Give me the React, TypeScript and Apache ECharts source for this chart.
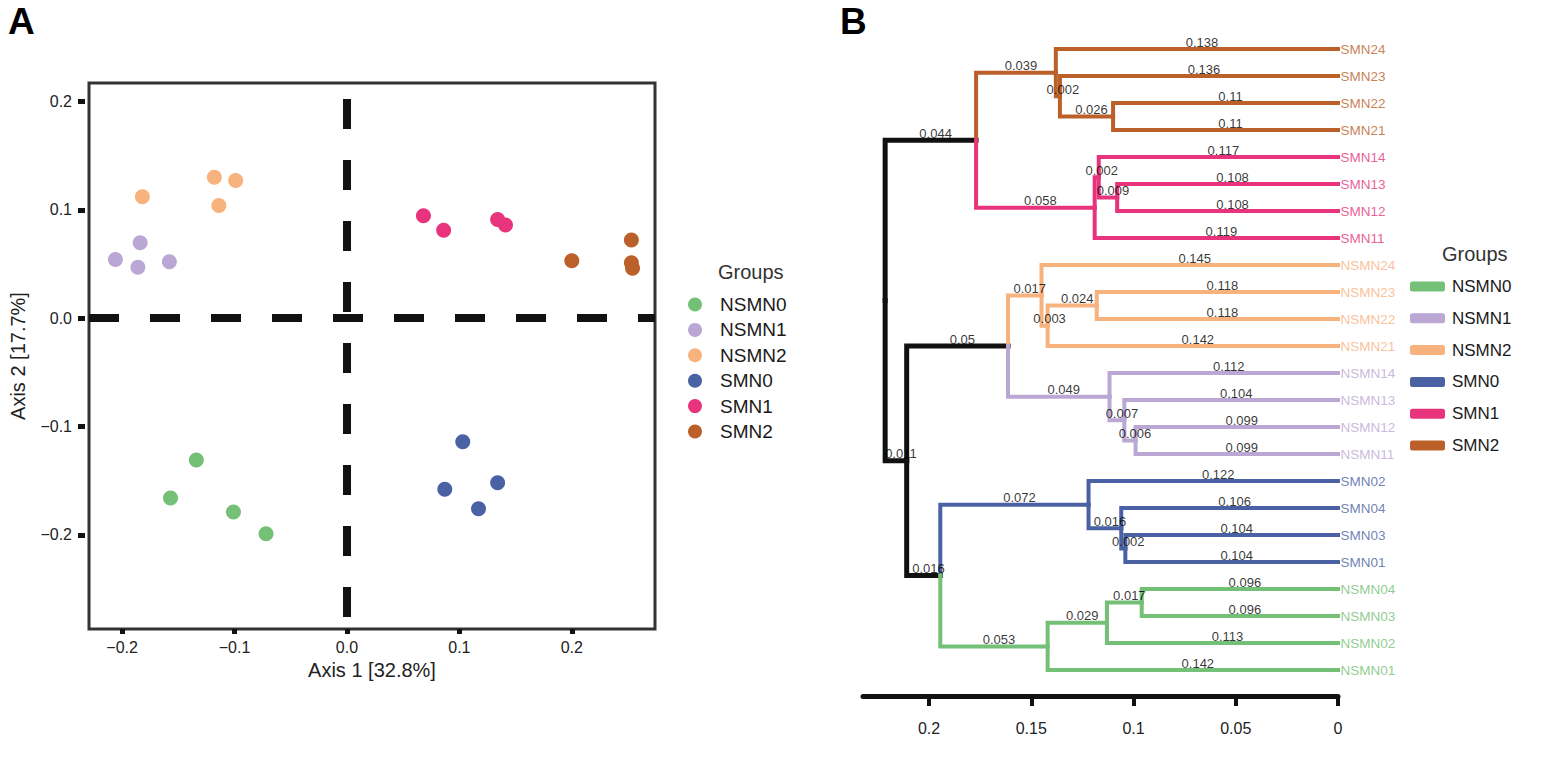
import React, { useEffect, useRef } from 'react';
import * as echarts from 'echarts';

const FONT = 'Liberation Sans, Arial, Helvetica, sans-serif';

// Groups and their colours
const groups = ['NSMN0', 'NSMN1', 'NSMN2', 'SMN0', 'SMN1', 'SMN2'];
const groupColors = ['#74C076', '#BAA7D3', '#F8B27E', '#4A62A3', '#E7347C', '#BC6029'];

// Panel A: PCoA coordinates [Axis 1, Axis 2]
const pcoaNSMN0 = [[-0.134, -0.131], [-0.157, -0.166], [-0.101, -0.179], [-0.072, -0.199]];
const pcoaNSMN1 = [[-0.206, 0.054], [-0.184, 0.0695], [-0.186, 0.047], [-0.158, 0.052]];
const pcoaNSMN2 = [[-0.182, 0.112], [-0.118, 0.13], [-0.099, 0.127], [-0.114, 0.104]];
const pcoaSMN0 = [[0.103, -0.114], [0.087, -0.158], [0.134, -0.152], [0.117, -0.176]];
const pcoaSMN1 = [[0.068, 0.0945], [0.086, 0.081], [0.134, 0.091], [0.141, 0.086]];
const pcoaSMN2 = [[0.2, 0.053], [0.253, 0.072], [0.253, 0.051], [0.254, 0.046]];
const pcoaPoints = [pcoaNSMN0, pcoaNSMN1, pcoaNSMN2, pcoaSMN0, pcoaSMN1, pcoaSMN2];

const axis1Ticks = [-0.2, -0.1, 0, 0.1, 0.2];
const axis2Ticks = [-0.2, -0.1, 0, 0.1, 0.2];
const axis1Range = [-0.2295, 0.274];
const axis2Range = [-0.2869, 0.217];

// Panel B: UPGMA tree with branch lengths
const treeNewick =
  '(((SMN24:0.138,(SMN23:0.136,(SMN22:0.11,SMN21:0.11):0.026):0.002):0.039,' +
  '((SMN14:0.117,(SMN13:0.108,SMN12:0.108):0.009):0.002,SMN11:0.119):0.058):0.044,' +
  '(((NSMN24:0.145,((NSMN23:0.118,NSMN22:0.118):0.024,NSMN21:0.142):0.003):0.017,' +
  '(NSMN14:0.112,(NSMN13:0.104,(NSMN12:0.099,NSMN11:0.099):0.006):0.007):0.049):0.05,' +
  '((SMN02:0.122,(SMN04:0.106,(SMN03:0.104,SMN01:0.104):0.002):0.016):0.072,' +
  '(((NSMN04:0.096,NSMN03:0.096):0.017,NSMN02:0.113):0.029,NSMN01:0.142):0.053):0.016):0.011);';
const treeTicks = [0, 0.05, 0.1, 0.15, 0.2];
const treeMax = 0.2323;

type TNode = { name: string; len: string; children: TNode[]; h: number; y: number; group: string | null };

function parseNewick(s: string): TNode {
  let i = 0;
  function node(): TNode {
    const n: TNode = { name: '', len: '', children: [], h: 0, y: 0, group: null };
    if (s[i] === '(') {
      i++;
      n.children.push(node());
      while (s[i] === ',') {
        i++;
        n.children.push(node());
      }
      i++;
    }
    let name = '';
    while (i < s.length && !',():;'.includes(s[i])) name += s[i++];
    n.name = name;
    if (s[i] === ':') {
      i++;
      let len = '';
      while (i < s.length && !',();'.includes(s[i])) len += s[i++];
      n.len = len;
    }
    return n;
  }
  return node();
}

function buildTree() {
  const root = parseNewick(treeNewick);
  let leafIdx = 0;
  const leaves: TNode[] = [];
  const layout = (n: TNode) => {
    if (!n.children.length) {
      n.y = leafIdx++;
      n.h = 0;
      n.group = n.name.slice(0, -1);
      leaves.push(n);
      return;
    }
    n.children.forEach(layout);
    n.h = n.children.reduce((a, c) => a + c.h + parseFloat(c.len), 0) / n.children.length;
    n.y = (n.children[0].y + n.children[n.children.length - 1].y) / 2;
    const g = n.children[0].group;
    n.group = n.children.every((c) => c.group === g) ? g : null;
  };
  layout(root);
  const edges: { p: TNode; c: TNode }[] = [];
  const collect = (p: TNode) => {
    p.children.forEach((c) => {
      edges.push({ p, c });
      collect(c);
    });
  };
  collect(root);
  return { root, leaves, edges };
}

const fmtSigned = (v: number) => {
  if (Math.abs(v) < 1e-9) return '0.0';
  return (v < 0 ? '\u2212' : '') + Math.abs(v).toFixed(1);
};

export default function App() {
  const ref = useRef<HTMLDivElement>(null);
  useEffect(() => {
    if (!ref.current) return;
    const chart = echarts.init(ref.current, undefined, { renderer: 'svg' });
    const { leaves, edges } = buildTree();
    const colorOf = (g: string | null) => (g ? groupColors[groups.indexOf(g)] : '#111111');

    const edgeLines = edges.map(({ p, c }) => ({
      coords: [
        [p.h, p.y],
        [p.h, c.y],
        [c.h, c.y],
      ],
      lineStyle: { color: colorOf(c.group), width: c.group ? 4 : 5 },
    }));
    const edgeLabels = edges.map(({ p, c }) => ({ value: [(p.h + c.h) / 2, c.y], name: c.len }));
    const leafLabels = leaves.map((l) => ({
      value: [0, l.y],
      name: l.name,
      label: { color: colorOf(l.group) },
    }));

    const scatterSeries = groups.map((g, gi) => ({
      type: 'scatter',
      name: g,
      xAxisIndex: 0,
      yAxisIndex: 0,
      data: pcoaPoints[gi],
      symbolSize: 15,
      itemStyle: { color: groupColors[gi], opacity: 1 },
      z: 5,
      silent: true,
    }));

    const option: any = {
      animation: false,
      backgroundColor: '#ffffff',
      textStyle: { fontFamily: FONT },
      title: [
        { text: 'A', left: 8, top: 3, padding: 0, textStyle: { fontSize: 37, fontWeight: 'bold', color: '#000', fontFamily: FONT } },
        { text: 'B', left: 840, top: 3, padding: 0, textStyle: { fontSize: 37, fontWeight: 'bold', color: '#000', fontFamily: FONT } },
        { text: 'Groups', left: 718, top: 262, padding: 0, textStyle: { fontSize: 20, fontWeight: 'normal', color: '#333', fontFamily: FONT } },
        { text: 'Groups', left: 1442, top: 244, padding: 0, textStyle: { fontSize: 20, fontWeight: 'normal', color: '#333', fontFamily: FONT } },
      ],
      legend: [
        {
          data: groups,
          orient: 'vertical',
          left: 688,
          top: 295,
          icon: 'circle',
          itemWidth: 14,
          itemHeight: 14,
          itemGap: 6.4,
          padding: 0,
          selectedMode: false,
          textStyle: { fontSize: 19, lineHeight: 19, color: '#1a1a1a', fontFamily: FONT, padding: [0, 0, 0, 13] },
        },
        {
          data: groups,
          orient: 'vertical',
          left: 1410,
          top: 278,
          icon: 'roundRect',
          itemWidth: 35,
          itemHeight: 10,
          itemGap: 14.8,
          padding: 0,
          selectedMode: false,
          textStyle: { fontSize: 17, lineHeight: 17, color: '#1a1a1a', fontFamily: FONT, padding: [0, 0, 0, 2] },
        },
      ],
      grid: [
        { left: 89, top: 83, width: 566, height: 546, show: true, borderColor: '#333', borderWidth: 3, backgroundColor: 'transparent' },
        { left: 863, top: 49, width: 475, height: 621, show: false },
      ],
      xAxis: [
        {
          type: 'value',
          gridIndex: 0,
          min: axis1Range[0],
          max: axis1Range[1],
          axisLine: { show: false, onZero: false },
          splitLine: { show: false },
          axisTick: { show: true, length: 5, lineStyle: { width: 5, color: '#111' }, customValues: axis1Ticks },
          axisLabel: { customValues: axis1Ticks, formatter: fmtSigned, fontSize: 16, color: '#222', margin: 10, fontFamily: FONT },
          name: 'Axis 1 [32.8%]',
          nameLocation: 'middle',
          nameGap: 31,
          nameTextStyle: { fontSize: 20, color: '#222', fontFamily: FONT },
        },
        {
          type: 'value',
          gridIndex: 1,
          min: 0,
          max: treeMax,
          inverse: true,
          offset: 26,
          axisLine: { show: true, onZero: false, lineStyle: { width: 5, color: '#111' } },
          splitLine: { show: false },
          axisTick: { show: true, length: 10, lineStyle: { width: 4, color: '#111' }, customValues: treeTicks },
          axisLabel: { customValues: treeTicks, formatter: (v: number) => String(v), fontSize: 16, color: '#222', margin: 24, fontFamily: FONT },
        },
      ],
      yAxis: [
        {
          type: 'value',
          gridIndex: 0,
          min: axis2Range[0],
          max: axis2Range[1],
          offset: 4,
          axisLine: { show: false, onZero: false },
          splitLine: { show: false },
          axisTick: { show: true, length: 7, lineStyle: { width: 5, color: '#111' }, customValues: axis2Ticks },
          axisLabel: { customValues: axis2Ticks, formatter: fmtSigned, fontSize: 16, color: '#222', margin: 13, fontFamily: FONT },
          name: 'Axis 2 [17.7%]',
          nameLocation: 'middle',
          nameGap: 57,
          nameTextStyle: { fontSize: 20, color: '#222', fontFamily: FONT },
        },
        {
          type: 'value',
          gridIndex: 1,
          min: 0,
          max: leaves.length - 1,
          inverse: true,
          show: false,
          axisLine: { onZero: false },
        },
      ],
      series: [
        {
          type: 'scatter',
          name: 'ref',
          xAxisIndex: 0,
          yAxisIndex: 0,
          data: [],
          silent: true,
          markLine: {
            silent: true,
            symbol: 'none',
            z: 1,
            label: { show: false },
            lineStyle: { type: [30, 31], width: 8, color: '#111', opacity: 1 },
            data: [
              { xAxis: 0, lineStyle: { type: [30, 31], dashOffset: 48.6, width: 8, color: '#111' } },
              { yAxis: 0 },
            ],
          },
        },
        ...scatterSeries,
        {
          type: 'lines',
          name: 'tree',
          coordinateSystem: 'cartesian2d',
          xAxisIndex: 1,
          yAxisIndex: 1,
          polyline: true,
          silent: true,
          clip: false,
          lineStyle: { join: 'miter', cap: 'square', opacity: 1 },
          data: edgeLines,
          z: 2,
        },
        {
          type: 'scatter',
          name: 'edgeLabels',
          xAxisIndex: 1,
          yAxisIndex: 1,
          symbolSize: 1,
          clip: false,
          itemStyle: { color: 'transparent' },
          silent: true,
          z: 4,
          label: { show: true, position: 'top', distance: 0, offset: [5, 0], formatter: '{b}', fontSize: 13, color: '#000', fontFamily: FONT },
          data: edgeLabels,
        },
        {
          type: 'scatter',
          name: 'leafLabels',
          xAxisIndex: 1,
          yAxisIndex: 1,
          symbolSize: 1,
          clip: false,
          itemStyle: { color: 'transparent' },
          silent: true,
          z: 4,
          label: { show: true, position: 'right', distance: 2, formatter: '{b}', fontSize: 13.5, fontFamily: FONT },
          data: leafLabels,
        },
      ],
    };
    chart.setOption(option);
    return () => chart.dispose();
  }, []);
  return (
    <div
      ref={ref}
      style={{ position: 'fixed', left: 0, top: 0, width: 1557, height: 764, background: '#fff' }}
    />
  );
}
